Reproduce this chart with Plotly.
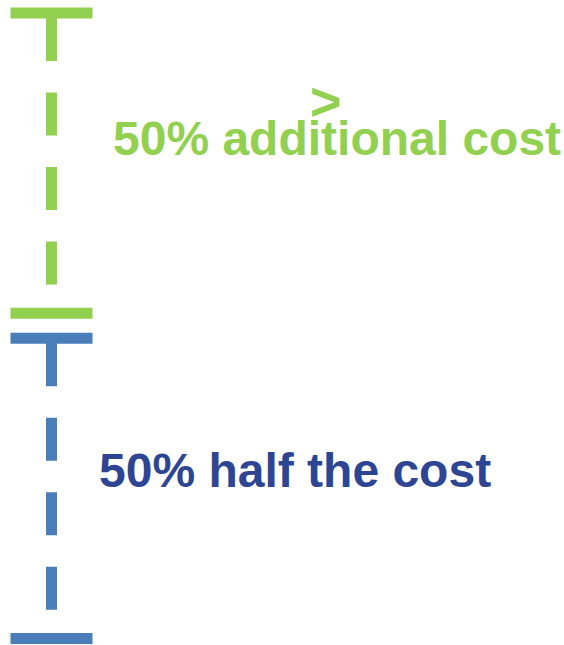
import plotly.graph_objects as go

# Data
categories = ["half the cost", "additional cost"]
shares = [50, 50]            # percent, stacked bottom -> top
labels = ["50% half the cost", "50% additional cost"]
marker_text = ">"

line_colors = ["#4A7EBB", "#92D050"]
text_colors = ["#2E4593", "#92D050"]

GAP = 2  # visual gap (percent units) between the two segments

fig = go.Figure()

start = 0
segs = []
for i, s in enumerate(shares):
    lo = start + (GAP if i > 0 else 0)
    hi = start + s - (GAP if i < len(shares) - 1 else 0)
    segs.append((lo, hi))
    start += s

for i, (lo, hi) in enumerate(segs):
    # dashed stem, drawn top -> bottom
    fig.add_trace(go.Scatter(
        x=[0, 0], y=[hi, lo], mode="lines",
        line=dict(color=line_colors[i], width=11,
                  dash="48px,31.5px,43px,31.5px,43px,31.5px,43px,60px"),
        hoverinfo="skip", showlegend=False))
    # caps
    fig.add_trace(go.Scatter(
        x=[0, 0], y=[hi, lo], mode="markers",
        marker=dict(symbol="line-ew", size=58.6,
                    line=dict(color=line_colors[i], width=11)),
        hoverinfo="skip", showlegend=False))

font_family = "Arial, Liberation Sans, sans-serif"
mids = [(lo + hi) / 2 for lo, hi in segs]

fig.add_annotation(x=0, y=mids[0], text=labels[0], showarrow=False,
                   xanchor="left", yanchor="middle", xshift=45, yshift=18,
                   font=dict(family=font_family, size=48, color=text_colors[0], weight=700))
fig.add_annotation(x=0, y=mids[1], text=labels[1], showarrow=False,
                   xanchor="left", yanchor="middle", xshift=59, yshift=25,
                   font=dict(family=font_family, size=48, color=text_colors[1], weight=700))
fig.add_annotation(x=0, y=mids[1], text=marker_text, showarrow=False,
                   xanchor="center", yanchor="middle", xshift=274, yshift=62,
                   font=dict(family=font_family, size=54, color=text_colors[1], weight=700))

fig.update_layout(
    width=564, height=645,
    margin=dict(l=0, r=0, t=0, b=0),
    paper_bgcolor="white", plot_bgcolor="white",
    xaxis=dict(range=[-51.5, 512.5], visible=False, fixedrange=True),
    yaxis=dict(range=[-1.039, 102.078], visible=False, fixedrange=True),
    showlegend=False,
    hovermode=False,
)

fig.write_html("out.html",
               config={"displayModeBar": False, "staticPlot": True},
               post_script="document.body.style.margin='0';document.body.style.overflow='hidden';")
